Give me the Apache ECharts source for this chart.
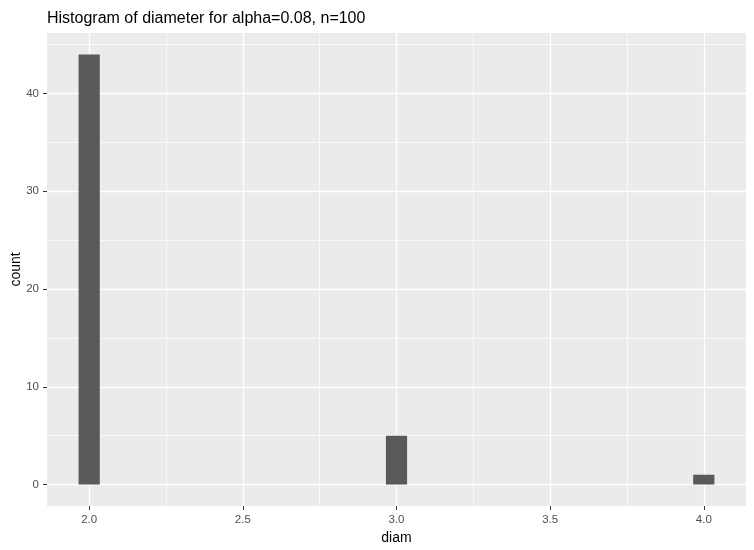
<!DOCTYPE html>
<html>
<head>
<meta charset="utf-8">
<script src="https://cdn.jsdelivr.net/npm/echarts@6/dist/echarts.min.js"></script>
<style>
  html, body { margin: 0; padding: 0; background: #fff; }
  #chart { width: 754px; height: 550px; }
</style>
</head>
<body>
<div id="chart"></div>
<script>
// histogram bins (centre, count)
const binCenters = [2.0, 3.0, 4.0];
const binCounts = [44, 5, 1];
const binWidth = 2 / 29;

const xTicks = [2.0, 2.5, 3.0, 3.5, 4.0];
const xMinor = [2.25, 2.75, 3.25, 3.75];
const yTicks = [0, 10, 20, 30, 40];
const yMinor = [5, 15, 25, 35, 45];

const xMin = 1.8627, xMax = 4.1373;
const yMin = -2.2, yMax = 46.2;

let chart = echarts.init(document.getElementById('chart'), null, {renderer: 'canvas'});

const font = 'Arial, "Liberation Sans", sans-serif';

let minorLines = [];
xMinor.forEach(v => minorLines.push({xAxis: v}));
yMinor.forEach(v => minorLines.push({yAxis: v}));

let option = {
  animation: false,
  textStyle: {fontFamily: font},
  title: {
    text: 'Histogram of diameter for alpha=0.08, n=100',
    left: 42,
    top: 6,
    textStyle: {fontSize: 16, fontWeight: 'normal', color: '#000', fontFamily: font}
  },
  grid: {
    left: 47, right: 8, top: 33, bottom: 44,
    outerBoundsMode: 'none',
    containLabel: false,
    show: true, backgroundColor: '#EBEBEB', borderWidth: 0
  },
  xAxis: {
    type: 'value',
    min: xMin, max: xMax,
    name: 'diam',
    nameLocation: 'middle',
    nameGap: 25,
    nameMoveOverlap: false,
    nameTextStyle: {fontSize: 14, color: '#000'},
    axisLine: {show: false, onZero: false},
    axisTick: {show: true, length: 4, lineStyle: {color: '#333', width: 1}, customValues: xTicks},
    axisLabel: {
      customValues: xTicks, margin: 8, fontSize: 11.5, color: '#4D4D4D',
      formatter: v => v.toFixed(1)
    },
    splitLine: {show: true, lineStyle: {color: '#fff', width: 1.3}}
  },
  yAxis: {
    type: 'value',
    min: yMin, max: yMax,
    name: 'count',
    nameLocation: 'middle',
    nameGap: 24,
    nameMoveOverlap: false,
    nameTextStyle: {fontSize: 14, color: '#000'},
    axisLine: {show: false, onZero: false},
    axisTick: {show: true, length: 4, lineStyle: {color: '#333', width: 1}, customValues: yTicks},
    axisLabel: {customValues: yTicks, margin: 8, fontSize: 11.5, color: '#4D4D4D'},
    splitLine: {show: true, lineStyle: {color: '#fff', width: 1.3}}
  },
  series: [
    {
      // minor grid lines, kept behind the bars
      type: 'line',
      data: [],
      z: 1,
      silent: true,
      markLine: {
        silent: true,
        z: 1,
        symbol: 'none',
        label: {show: false},
        lineStyle: {color: '#fff', width: 0.7, type: 'solid'},
        emphasis: {disabled: true},
        data: minorLines
      }
    },
    {
      type: 'custom',
      z: 3,
      data: binCenters.map((c, i) => [c, binCounts[i]]),
      renderItem: function (params, api) {
        let x = api.value(0), y = api.value(1);
        let p0 = api.coord([x - binWidth / 2, y]);
        let p1 = api.coord([x + binWidth / 2, 0]);
        return {
          type: 'rect',
          shape: {x: p0[0], y: p0[1], width: p1[0] - p0[0], height: p1[1] - p0[1]},
          style: {fill: '#595959'}
        };
      }
    }
  ]
};

chart.setOption(option);
</script>
</body>
</html>
